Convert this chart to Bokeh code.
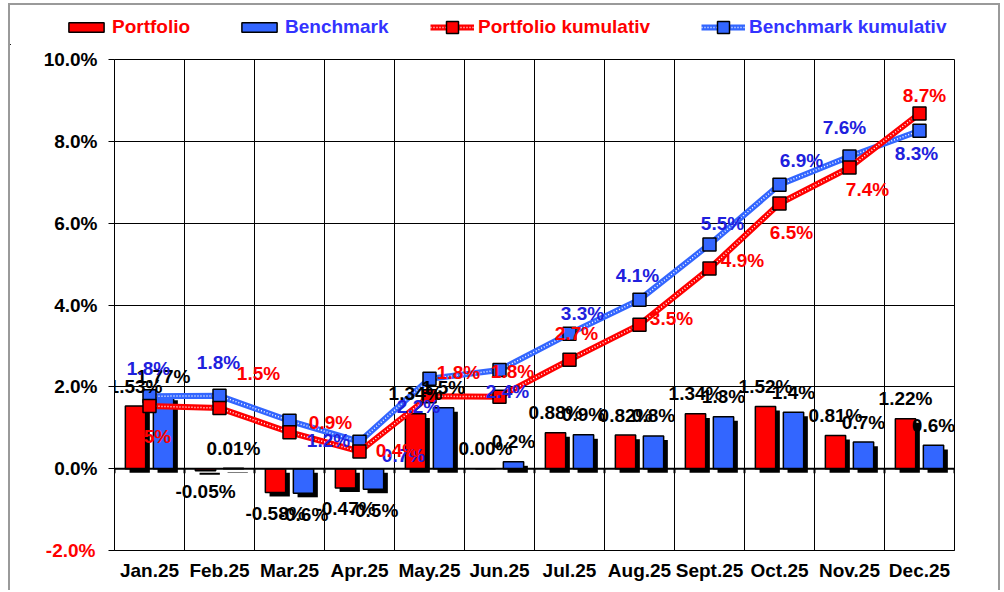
from bokeh.plotting import figure
from bokeh.layouts import column
from bokeh.models import ColumnDataSource, FixedTicker, Legend, LegendItem, Span, LinearAxis
from bokeh.core.properties import value
from bokeh.embed import file_html
from bokeh.resources import INLINE

# ---------------- data ----------------
months = ["Jan.25", "Feb.25", "Mar.25", "Apr.25", "May.25", "Jun.25",
          "Jul.25", "Aug.25", "Sept.25", "Oct.25", "Nov.25", "Dec.25"]
portfolio = [1.53, -0.05, -0.58, -0.47, 1.34, 0.00, 0.88, 0.82, 1.34, 1.52, 0.81, 1.22]
portfolio_labels = ["1.53%", "-0.05%", "-0.58%", "-0.47%", "1.34%", "0.00%",
                    "0.88%", "0.82%", "1.34%", "1.52%", "0.81%", "1.22%"]
benchmark = [1.77, 0.01, -0.60, -0.50, 1.49, 0.17, 0.83, 0.80, 1.27, 1.38, 0.65, 0.57]
benchmark_labels = ["1.77%", "0.01%", "-0.6%", "-0.5%", "1.5%", "0.2%",
                    "0.9%", "0.8%", "1.3%", "1.4%", "0.7%", "0.6%"]
portfolio_cum = [1.53, 1.48, 0.89, 0.42, 1.77, 1.76, 2.66, 3.52, 4.89, 6.48, 7.36, 8.68]
benchmark_cum = [1.77, 1.78, 1.17, 0.66, 2.20, 2.41, 3.30, 4.13, 5.48, 6.94, 7.63, 8.26]
y_ticks = [-2, 0, 2, 4, 6, 8, 10]
y_tick_labels = ["-2.0%", "0.0%", "2.0%", "4.0%", "6.0%", "8.0%", "10.0%"]

# ---------------- layout / style ----------------
# pixel offsets of the cumulative data labels (as placed in the original)
pc_dx = [0, 39, 41, 38, 29, 13, 7, 32, 33, 12, 18, 5]
pc_dy = [30, -35, -10, -1, -24, -25, -26, -6, -8, 29, 22, -18]
bc_dx = [-1, -1, 39, 44, -11, 8, 13, -2, 13, 22, -5, -3]
bc_dy = [-28, -33, 20, 14, 28, 21, -20, -24, -21, -24, -29, 23]

RED = "#FF0000"
BLUE = "#3366FF"
BLUE_TXT = "#3333FF"
BLUE_LBL = "#2020DD"
FONT = "Liberation Sans"
FS = "19px"
BAR_W = 0.29
BAR_OFF = 0.2
SH_DX = 0.06
SH_DY = 0.1

n = len(months)
xc = [i + 0.5 for i in range(n)]

src = ColumnDataSource(dict(
    xp=[x - BAR_OFF for x in xc],
    xb=[x + BAR_OFF for x in xc],
    xps=[x - BAR_OFF + SH_DX for x in xc],
    xbs=[x + BAR_OFF + SH_DX for x in xc],
    p=portfolio, b=benchmark,
    p_top_s=[max(v, 0) - SH_DY for v in portfolio],
    p_bot_s=[min(v, 0) - SH_DY for v in portfolio],
    b_top_s=[max(v, 0) - SH_DY for v in benchmark],
    b_bot_s=[min(v, 0) - SH_DY for v in benchmark],
    p_lab=portfolio_labels, b_lab=benchmark_labels,
    p_lab_dy=[-20 if v >= 0 else 21 for v in portfolio],
    b_lab_dy=[-20 if v >= 0 else 21 for v in benchmark],
    x=xc, pc=portfolio_cum, bc=benchmark_cum,
    pc_lab=["%.1f%%" % v for v in portfolio_cum],
    bc_lab=["%.1f%%" % v for v in benchmark_cum],
    pc_dx=pc_dx, pc_dy=pc_dy, bc_dx=bc_dx, bc_dy=bc_dy,
))

W = 988
p = figure(width=W, height=545, x_range=(0, n), y_range=(-2, 10),
           output_backend="svg", toolbar_location=None,
           min_border_left=104, min_border_right=44,
           min_border_top=14, min_border_bottom=40)
p.frame_align = False
p.background_fill_color = "white"
p.border_fill_color = "white"
p.outline_line_color = "black"
p.outline_line_width = 1

# grid
p.xgrid.ticker = FixedTicker(ticks=list(range(n + 1)))
p.xgrid.grid_line_color = "black"
p.xgrid.grid_line_width = 1
p.ygrid.ticker = FixedTicker(ticks=y_ticks)
p.ygrid.grid_line_color = "black"
p.ygrid.grid_line_width = 1

# axes
p.xaxis.ticker = FixedTicker(ticks=xc)
p.xaxis.major_label_overrides = {x: m for x, m in zip(xc, months)}
p.xaxis.major_tick_line_color = None
p.xaxis.minor_tick_line_color = None
p.xaxis.axis_line_color = "black"
p.xaxis.major_label_standoff = 3
p.yaxis.ticker = FixedTicker(ticks=y_ticks)
ov = {t: l for t, l in zip(y_ticks, y_tick_labels)}
ov[y_ticks[0]] = " "
p.yaxis.major_label_overrides = ov
p.yaxis.major_tick_out = 6
p.yaxis.major_tick_in = 0
p.yaxis.major_tick_line_color = "black"
p.yaxis.minor_tick_line_color = None
p.yaxis.axis_line_color = "black"
p.yaxis.major_label_standoff = 11
for ax in (p.xaxis, p.yaxis):
    ax.major_label_text_font = FONT
    ax.major_label_text_font_style = "bold"
    ax.major_label_text_font_size = FS
    ax.major_label_text_color = "black"

# red label for the lowest y tick: an outer left axis whose label is pulled
# back (negative standoff) onto the same column as the main tick labels
red_ax = LinearAxis(ticker=FixedTicker(ticks=[y_ticks[0]]),
                    major_label_overrides={y_ticks[0]: y_tick_labels[0]},
                    axis_line_color=None,
                    major_tick_line_color=None, minor_tick_line_color=None,
                    major_tick_out=0, major_tick_in=0, major_label_standoff=-55,
                    major_label_text_font=FONT, major_label_text_font_style="bold",
                    major_label_text_font_size=FS, major_label_text_color=RED)
p.add_layout(red_ax, "left")

# bar shadows
p.vbar(x="xps", top="p_top_s", bottom="p_bot_s", width=BAR_W, source=src,
       fill_color="black", line_color=None)
p.vbar(x="xbs", top="b_top_s", bottom="b_bot_s", width=BAR_W, source=src,
       fill_color="black", line_color=None)
# bars
p.vbar(x="xp", top="p", bottom=0, width=BAR_W, source=src,
       fill_color=RED, line_color="black", line_width=1.5)
p.vbar(x="xb", top="b", bottom=0, width=BAR_W, source=src,
       fill_color=BLUE, line_color="black", line_width=1.5)

# zero line with ticks
p.add_layout(Span(location=0, dimension="width", line_color="black", line_width=2))
p.segment(x0=list(range(n + 1)), x1=list(range(n + 1)), y0=[0] * (n + 1),
          y1=[-0.11] * (n + 1), line_color="black", line_width=2)

# cumulative lines
p.line("x", "bc", source=src, line_color=BLUE, line_width=6)
p.line("x", "bc", source=src, line_color="white", line_width=1.5, line_dash="1 2")
p.scatter("x", "bc", source=src, marker="square", size=13,
          fill_color=BLUE, line_color="black", line_width=1.5)
p.line("x", "pc", source=src, line_color=RED, line_width=6)
p.line("x", "pc", source=src, line_color="white", line_width=1.5, line_dash="1 2")
p.scatter("x", "pc", source=src, marker="square", size=13,
          fill_color=RED, line_color="black", line_width=1.5)

# bar value labels
for xcol, ycol, lab, dy in (("xp", "p", "p_lab", "p_lab_dy"), ("xb", "b", "b_lab", "b_lab_dy")):
    p.text(x=xcol, y=ycol, text=lab, y_offset=dy, source=src,
           text_align="center", text_baseline="middle", text_color="black",
           text_font=value(FONT), text_font_style="bold", text_font_size=FS)

# cumulative labels
p.text(x="x", y="bc", text="bc_lab", x_offset="bc_dx", y_offset="bc_dy", source=src,
       text_align="center", text_baseline="middle", text_color=BLUE_LBL,
       text_font=value(FONT), text_font_style="bold", text_font_size=FS)
p.text(x="x", y="pc", text="pc_lab", x_offset="pc_dx", y_offset="pc_dy", source=src,
       text_align="center", text_baseline="middle", text_color=RED,
       text_font=value(FONT), text_font_style="bold", text_font_size=FS)

# ---------------- legend strip (separate figure above the chart) ----------------
# its ranges lie far from the data, so its renderers only serve the legend
lf = figure(width=W, height=40, x_range=(1000, 1001), y_range=(1000, 1001),
            output_backend="svg", toolbar_location=None,
            x_axis_location=None, y_axis_location=None,
            min_border_left=0, min_border_right=0, min_border_top=0, min_border_bottom=0)
lf.frame_align = False
lf.grid.visible = False
lf.outline_line_color = None
lf.background_fill_color = "white"
lf.border_fill_color = "white"

lg_pbar = lf.vbar(x="xp", top="p", width=BAR_W, source=src,
                  fill_color=RED, line_color="black", line_width=1.5)
lg_bbar = lf.vbar(x="xb", top="b", width=BAR_W, source=src,
                  fill_color=BLUE, line_color="black", line_width=1.5)
lg_pl = lf.line("x", "pc", source=src, line_color=RED, line_width=6)
lg_pd = lf.line("x", "pc", source=src, line_color="white", line_width=1.5, line_dash="1 2")
lg_pm = lf.scatter("x", "pc", source=src, marker="square", size=13, fill_color=RED,
                   line_color="black", line_width=1.5)
lg_bl = lf.line("x", "bc", source=src, line_color=BLUE, line_width=6)
lg_bd = lf.line("x", "bc", source=src, line_color="white", line_width=1.5, line_dash="1 2")
lg_bm = lf.scatter("x", "bc", source=src, marker="square", size=13, fill_color=BLUE,
                   line_color="black", line_width=1.5)

def add_legend(label, renderers, color, loc, gh):
    lg = Legend(items=[LegendItem(label=label, renderers=renderers)],
                location=loc, orientation="horizontal",
                label_text_color=color, label_text_font=FONT,
                label_text_font_style="bold", label_text_font_size=FS,
                glyph_width=44, glyph_height=gh, label_standoff=4,
                label_height=22, padding=0, margin=0, spacing=0,
                border_line_color=None, background_fill_alpha=0)
    lf.add_layout(lg, "center")

add_legend("Portfolio", [lg_pbar], RED, (54, 7), 12)
add_legend("Benchmark", [lg_bbar], BLUE_TXT, (227, 7), 12)
add_legend("Portfolio kumulativ", [lg_pl, lg_pd, lg_pm], RED, (420, 3), 30)
add_legend("Benchmark kumulativ", [lg_bl, lg_bd, lg_bm], BLUE_TXT, (691, 3), 30)

page = column(lf, p, spacing=0,
              styles={"margin-left": "8px", "margin-top": "3px",
                      "border-top": "2px solid #9a9a9a",
                      "border-left": "2px solid #9a9a9a",
                      "border-right": "2px solid #9a9a9a"})

open("out.html", "w").write(file_html(page, INLINE))
